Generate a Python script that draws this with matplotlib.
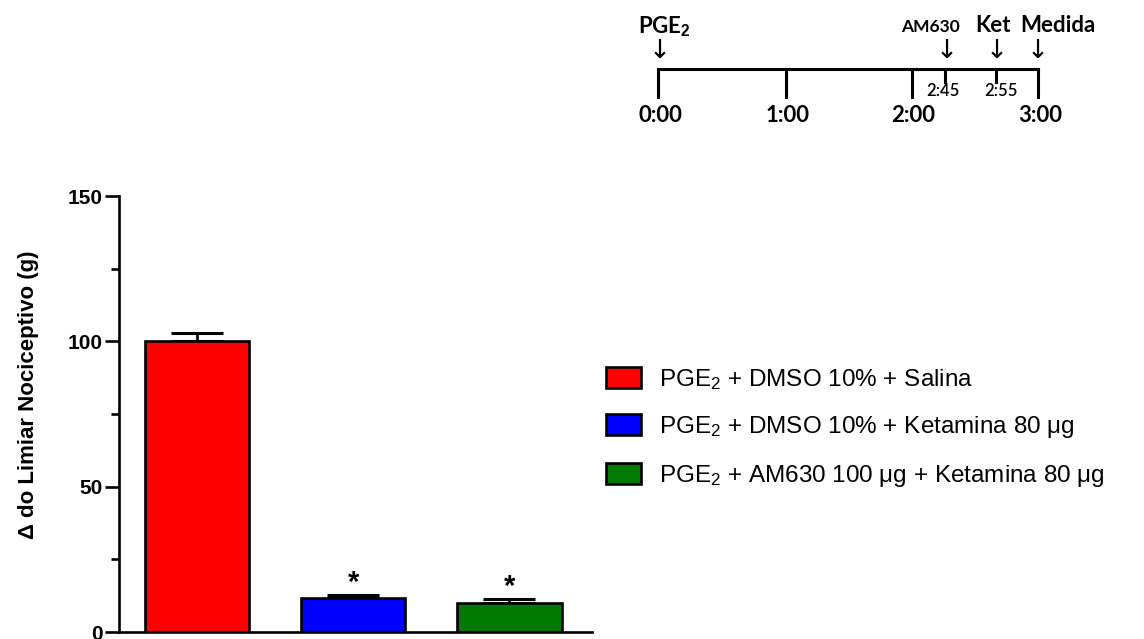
import matplotlib
matplotlib.use("Agg")
import matplotlib.pyplot as plt
from matplotlib.patches import Patch

plt.rcParams['font.family'] = ['Liberation Sans', 'DejaVu Sans']
plt.rcParams['mathtext.fontset'] = 'custom'
plt.rcParams['mathtext.rm'] = 'Liberation Sans'
plt.rcParams['mathtext.it'] = 'Liberation Sans:italic'
plt.rcParams['mathtext.bf'] = 'Liberation Sans:bold'

# ---- data ----
groups = ["PGE$_2$ + DMSO 10% + Salina",
          "PGE$_2$ + DMSO 10% + Ketamina 80 μg",
          "PGE$_2$ + AM630 100 μg + Ketamina 80 μg"]
means = [100.0, 11.7, 9.9]
sems = [2.7, 0.9, 1.4]
colors = ["#ff0000", "#0000ff", "#007a00"]
significant = [False, True, True]
yticks = [0, 50, 100, 150]
yminor = [25, 75, 125]
ylabel = "Δ do Limiar Nociceptivo (g)"

# timeline
tl_major_labels = ["0:00", "1:00", "2:00", "3:00"]
tl_minor_labels = ["2:45", "2:55"]
tl_events = ["PGE$_\\mathbf{2}$", "AM630", "Ket", "Medida"]

W, H = 1144, 639
fig = plt.figure(figsize=(W / 100, H / 100), dpi=100)

# ---- bar chart ----
ax = fig.add_axes([119 / W, 1 - 632 / H, (592 - 119) / W, (632 - 196) / H])
x = list(range(len(means)))
ax.bar(x, means, width=0.67, color=colors, edgecolor='black', linewidth=1.9, zorder=2)
ax.errorbar(x, means, yerr=[[0] * len(sems), sems], fmt='none', ecolor='black',
            elinewidth=1.9, capsize=19, capthick=2.2, zorder=1)
for xi, m, s, sig in zip(x, means, sems, significant):
    if sig:
        ax.text(xi, m + s + 4.3, "*", ha='center', va='center', fontsize=21, fontweight='bold')
ax.set_xlim(-0.50, 2.53)
ax.set_ylim(0, 150)
ax.set_yticks(yticks)
ax.set_yticks(yminor, minor=True)
ax.set_xticks([])
for s in ['top', 'right']:
    ax.spines[s].set_visible(False)
for s in ['left', 'bottom']:
    ax.spines[s].set_linewidth(1.9)
ax.tick_params(axis='y', which='major', length=10, width=1.9, labelsize=15, pad=2)
ax.tick_params(axis='y', which='minor', length=6, width=1.9)
for lab in ax.get_yticklabels():
    lab.set_fontweight('bold')
ax.set_ylabel(ylabel, fontsize=16, fontweight='bold')
ax.yaxis.set_label_coords((39 - 119) / (592 - 119), (632 - 395) / (632 - 196))
ax.patch.set_alpha(0)

# legend
handles = [Patch(facecolor=c, edgecolor='black', linewidth=1.9) for c in colors]
fig.legend(handles, groups, loc='upper left', bbox_to_anchor=(606 / W, 1 - 367 / H),
           frameon=False, fontsize=17.5, handlelength=1.44, handleheight=0.95,
           handletextpad=0.75, labelspacing=0.92, borderpad=0, borderaxespad=0)

# ---- timeline ----
tl = fig.add_axes([0, 0, 1, 1])
tl.set_xlim(0, W)
tl.set_ylim(H, 0)
tl.axis('off')
major_px = [658, 786, 912, 1038]
minor_px = [945, 996]
event_px = [659, 946, 996, 1037]
line_y = 69
lw = 2.2
tl.plot([major_px[0], major_px[-1]], [line_y, line_y], color='black', lw=lw, solid_capstyle='projecting')
major_text_px = [660, 788, 913, 1040]
for px, tx, lab in zip(major_px, major_text_px, tl_major_labels):
    tl.plot([px, px], [line_y, 97], color='black', lw=lw)
    tl.text(tx, 116, lab, ha='center', va='center', fontsize=16, fontweight='bold', family='Lato')
minor_text_px = [943, 1001]
for px, tx, lab in zip(minor_px, minor_text_px, tl_minor_labels):
    tl.plot([px, px], [line_y, 82], color='black', lw=lw)
    tl.text(tx, 91, lab, ha='center', va='center', fontsize=12, family='Lato', fontweight='semibold')
for px in event_px:
    tl.text(px + 0.5, 51, "↓", ha='center', va='center', fontsize=19, family='DejaVu Sans')
event_text_px = [664, 930, 993, 1058]
for px, lab in zip(event_text_px, tl_events):
    if lab == "AM630":
        tl.text(px, 27, lab, ha='center', va='center', fontsize=12.5, fontweight='bold', family='Lato')
    elif lab.startswith("PGE"):
        tl.text(px, 27, lab, ha='center', va='center', fontsize=16, fontweight='bold', family='Lato')
    else:
        tl.text(px, 25, lab, ha='center', va='center', fontsize=16, fontweight='bold', family='Lato')

fig.savefig("out.png", dpi=100)
